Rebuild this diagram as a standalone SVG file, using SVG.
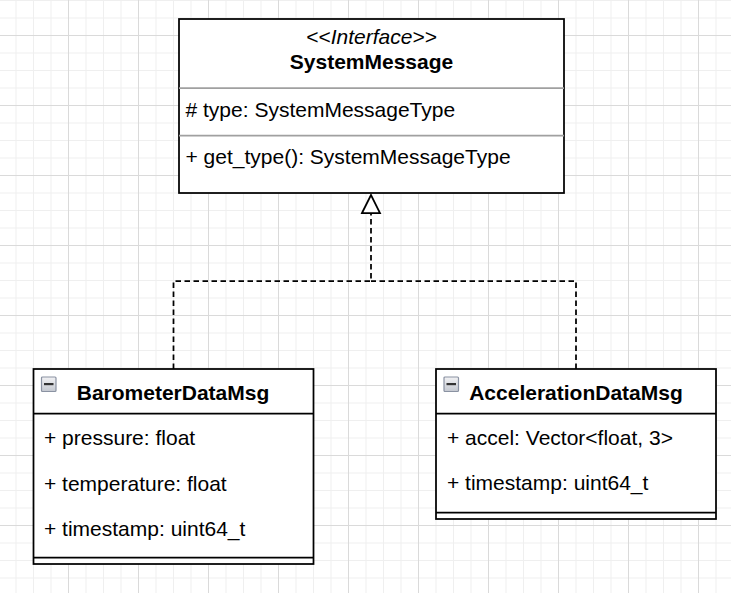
<svg xmlns="http://www.w3.org/2000/svg" width="731" height="593" viewBox="0 0 731 593">
<style>
.t{font-family:"Liberation Sans",Arial,sans-serif;font-size:21px;fill:#000}
.b{font-weight:bold}
.i{font-style:italic}
.c{text-anchor:middle}
.box{fill:#fff;stroke:#000;stroke-width:1.75}
.sep{stroke:#a0a0a0;stroke-width:1.75}
.div{stroke:#000;stroke-width:1.75}
.edge{fill:none;stroke:#000;stroke-width:1.75;stroke-dasharray:5.5 3.5}
</style>
<defs>
<pattern id="minor" patternUnits="userSpaceOnUse" x="-2" y="0" width="17.5" height="17.5">
<path d="M0.5,0 V17.5 M0,0.5 H17.5" stroke="#efefef" stroke-width="1" fill="none"/>
</pattern>
<pattern id="major" patternUnits="userSpaceOnUse" x="-2" y="35" width="70" height="70">
<path d="M0.5,0 V70 M0,0.5 H70" stroke="#dadada" stroke-width="1" fill="none"/>
</pattern>
<linearGradient id="ig" x1="0" y1="0" x2="0" y2="1">
<stop offset="0" stop-color="#f2f2f4"/>
<stop offset="1" stop-color="#c4c8d0"/>
</linearGradient>
<marker id="tri" viewBox="0 0 18 18" markerWidth="18" markerHeight="18" refX="0" refY="9" orient="auto" markerUnits="userSpaceOnUse" overflow="visible">
<path d="M0,0 L18,9 L0,18 Z" fill="#fff" stroke="#000" stroke-width="1.75"/>
</marker>
<g id="icon">
<rect x="0.5" y="0.5" width="14.5" height="14.5" rx="1" fill="url(#ig)" stroke="#8a92a2" stroke-width="1.2"/>
<rect x="3" y="6.5" width="9.5" height="2.2" fill="#333"/>
</g>
</defs>
<rect width="731" height="593" fill="#fff"/>
<rect width="731" height="593" fill="url(#minor)"/>
<rect width="731" height="593" fill="url(#major)"/>

<g id="connectors">
<path class="edge" d="M173.5,369 V281 H371 V213" marker-end="url(#tri)"/>
<path class="edge" d="M576,369 V281 H371"/>
</g>

<g id="SystemMessage">
<rect class="box" x="179" y="19" width="385" height="174"/>
<line class="sep" x1="179" y1="88" x2="564" y2="88"/>
<line class="sep" x1="179" y1="135.5" x2="564" y2="135.5"/>
<text class="t i c" x="371.5" y="44">&lt;&lt;Interface&gt;&gt;</text>
<text class="t b c" x="371.5" y="69">SystemMessage</text>
<text class="t" x="185.5" y="117"># type: SystemMessageType</text>
<text class="t" x="185.5" y="164">+ get_type(): SystemMessageType</text>
</g>

<g id="BarometerDataMsg">
<rect class="box" x="33.5" y="369" width="280" height="195"/>
<line class="div" x1="33.5" y1="413.5" x2="313.5" y2="413.5"/>
<line class="div" x1="33.5" y1="557.5" x2="313.5" y2="557.5"/>
<use href="#icon" x="41" y="376.5"/>
<text class="t b c" x="173" y="399.5">BarometerDataMsg</text>
<text class="t" x="44" y="445">+ pressure: float</text>
<text class="t" x="44" y="490.5">+ temperature: float</text>
<text class="t" x="44" y="535.5">+ timestamp: uint64_t</text>
</g>

<g id="AccelerationDataMsg">
<rect class="box" x="436" y="369" width="280" height="150"/>
<line class="div" x1="436" y1="413.5" x2="716" y2="413.5"/>
<line class="div" x1="436" y1="512.5" x2="716" y2="512.5"/>
<use href="#icon" x="443.5" y="376.5"/>
<text class="t b c" x="576" y="399.5">AccelerationDataMsg</text>
<text class="t" x="447" y="444.5">+ accel: Vector&lt;float, 3&gt;</text>
<text class="t" x="447" y="490">+ timestamp: uint64_t</text>
</g>
</svg>
